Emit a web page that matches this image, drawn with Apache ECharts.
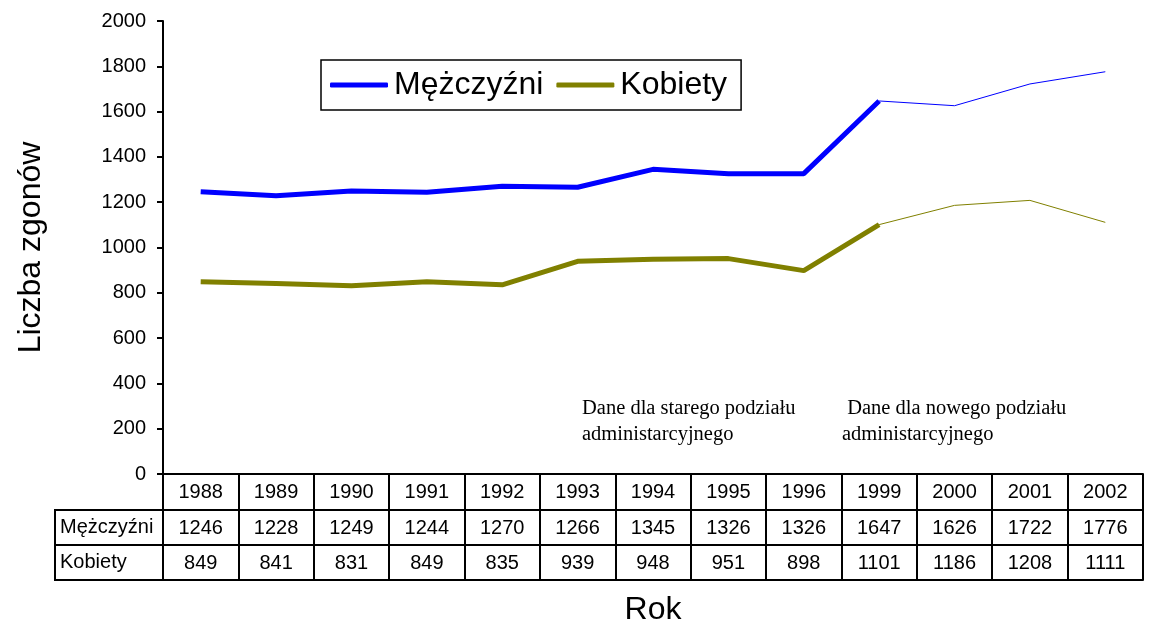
<!DOCTYPE html>
<html>
<head>
<meta charset="utf-8">
<script src="https://cdn.jsdelivr.net/npm/echarts@6/dist/echarts.min.js"></script>
<style>
html, body { margin: 0; padding: 0; background: #fff; }
#chart { width: 1151px; height: 623px; }
</style>
</head>
<body>
<div id="chart"></div>
<script>
var years = ['1988', '1989', '1990', '1991', '1992', '1993', '1994', '1995', '1996', '1999', '2000', '2001', '2002'];
var men = [1246, 1228, 1249, 1244, 1270, 1266, 1345, 1326, 1326, 1647, 1626, 1722, 1776];
var women = [849, 841, 831, 849, 835, 939, 948, 951, 898, 1101, 1186, 1208, 1111];
var splitIndex = 9; // 1999: from here new administrative division

var FONT = 'Liberation Sans, Arial, sans-serif';
var SERIF = 'Liberation Serif, Times New Roman, serif';

// thick part up to 1999, thin part from 1999 onward
function partOld(arr) {
    return arr.map(function (v, i) { return i <= splitIndex ? v : null; });
}
function partNew(arr) {
    return arr.map(function (v, i) { return i >= splitIndex ? v : null; });
}

function tableAxis(labels, offset, tickLen, name) {
    return {
        type: 'category',
        data: years,
        position: 'bottom',
        offset: offset,
        boundaryGap: true,
        axisLine: { show: true, lineStyle: { color: '#000', width: 2 } },
        axisTick: { show: tickLen > 0, interval: 0, length: tickLen, lineStyle: { color: '#000', width: 2 } },
        axisLabel: {
            show: labels !== null,
            interval: 0,
            margin: 8,
            color: '#000',
            fontFamily: FONT,
            fontSize: 20,
            formatter: function (val, idx) { return labels ? String(labels[idx]) : ''; }
        },
        name: name || '',
        nameLocation: 'middle',
        nameGap: 14,
        nameTextStyle: { color: '#000', fontFamily: FONT, fontSize: 32 }
    };
}

var chart = echarts.init(document.getElementById('chart'));

var option = {
    animation: false,
    backgroundColor: '#fff',
    grid: { left: 163, right: 8, top: 21, bottom: 149, containLabel: false, outerBoundsMode: 'none' },
    legend: {
        data: [
            { name: 'Mężczyźni', icon: 'roundRect' },
            { name: 'Kobiety', icon: 'roundRect' }
        ],
        left: 321,
        top: 60,
        orient: 'horizontal',
        borderColor: '#000',
        borderWidth: 1.5,
        padding: [9, 14, 9, 9],
        itemWidth: 58,
        itemHeight: 5,
        itemGap: 13,
        textStyle: { color: '#000', fontFamily: FONT, fontSize: 32, padding: [0, 0, 0, 1] }
    },
    xAxis: [
        tableAxis(years, 0, 36),
        tableAxis(men, 36, 35),
        tableAxis(women, 71, 35),
        tableAxis(null, 106, 0, 'Rok')
    ],
    yAxis: {
        type: 'value',
        min: 0,
        max: 2000,
        interval: 200,
        axisLine: { show: true, lineStyle: { color: '#000', width: 2 } },
        axisTick: { show: true, length: 6, lineStyle: { color: '#000', width: 2 } },
        axisLabel: {
            color: '#000', fontFamily: FONT, fontSize: 20, margin: 17,
            formatter: function (v) { return String(v); }
        },
        splitLine: { show: false },
        name: 'Liczba zgonów',
        nameLocation: 'middle',
        nameGap: 116,
        nameTextStyle: { color: '#000', fontFamily: FONT, fontSize: 32 }
    },
    series: [
        {
            name: 'Mężczyźni', type: 'line', symbol: 'none', data: partOld(men),
            lineStyle: { color: '#0000ff', width: 5 }, itemStyle: { color: '#0000ff' }
        },
        {
            name: 'Kobiety', type: 'line', symbol: 'none', data: partOld(women),
            lineStyle: { color: '#808000', width: 5 }, itemStyle: { color: '#808000' }
        },
        {
            name: 'Mężczyźni (nowy podział)', type: 'line', symbol: 'none', data: partNew(men),
            lineStyle: { color: '#0000ff', width: 1 }, itemStyle: { color: '#0000ff' }
        },
        {
            name: 'Kobiety (nowy podział)', type: 'line', symbol: 'none', data: partNew(women),
            lineStyle: { color: '#808000', width: 1 }, itemStyle: { color: '#808000' }
        }
    ],
    graphic: [
        // left header column of the data table
        { type: 'rect', shape: { x: 55, y: 510, width: 108, height: 70 },
          style: { fill: 'none', stroke: '#000', lineWidth: 2 } },
        { type: 'line', shape: { x1: 55, y1: 545, x2: 163, y2: 545 },
          style: { stroke: '#000', lineWidth: 2 } },
        { type: 'text', left: 60, top: 517,
          style: { text: 'Mężczyźni', fill: '#000', font: '20px ' + FONT } },
        { type: 'text', left: 60, top: 552,
          style: { text: 'Kobiety', fill: '#000', font: '20px ' + FONT } },
        // notes
        { type: 'text', left: 582, top: 396,
          style: { text: 'Dane dla starego podziału\nadministarcyjnego', fill: '#000',
                   font: '20.5px ' + SERIF, lineHeight: 26 } },
        { type: 'text', left: 842, top: 396,
          style: { text: ' Dane dla nowego podziału\nadministarcyjnego', fill: '#000',
                   font: '20.5px ' + SERIF, lineHeight: 26 } }
    ]
};

chart.setOption(option);
</script>
</body>
</html>
